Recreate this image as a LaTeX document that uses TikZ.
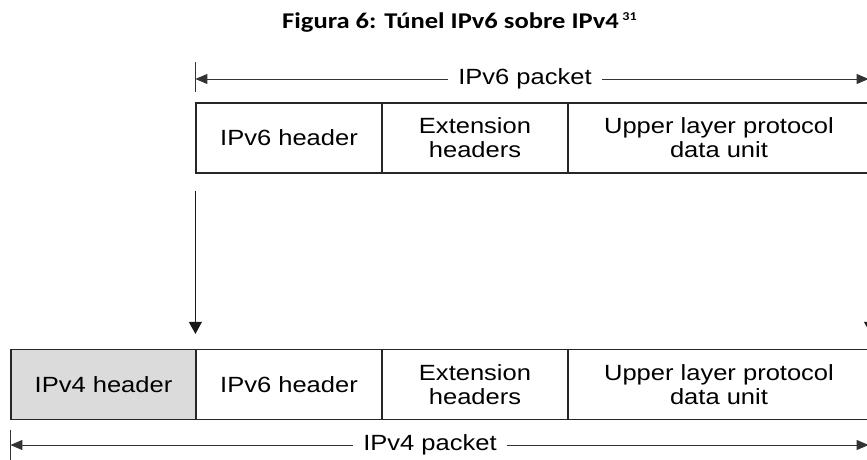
\documentclass[tikz,border=0pt]{standalone}
\usepackage{fontspec}
\setmainfont{Liberation Sans}
\newfontfamily\labfont[FakeStretch=1.16]{Liberation Sans}
\newfontfamily\captfont[FakeStretch=1.18]{Carlito}
\usetikzlibrary{arrows.meta}

\begin{document}
\begin{tikzpicture}[x=1pt,y=-1pt,
  cell/.style={draw=black!85, line width=1.2pt, minimum height=70pt,
    inner sep=0pt, align=center,
    font=\labfont\fontsize{22}{24}\selectfont},
  hdr/.style={cell, fill=black!14},
  dimline/.style={draw=black!80, line width=0.9pt,
    -{Triangle[length=12pt,width=10pt]}},
  dropline/.style={draw=black!90, line width=0.9pt,
    -{Triangle[length=12pt,width=13pt]}},
  tick/.style={draw=black!80, line width=0.9pt},
  dimlabel/.style={fill=white, inner xsep=10pt, inner ysep=2pt,
    font=\labfont\fontsize{22}{24}\selectfont}]

\useasboundingbox (0,0) rectangle (867,460);
\clip (0,0) rectangle (867,460);

% caption
\node[anchor=base west, inner sep=0pt,
  font=\captfont\bfseries\fontsize{22.5}{24}\selectfont] (cap) at (282,29)
  {Figura 6: Túnel IPv6 sobre IPv4\,\raisebox{8pt}{\fontsize{12}{12}\selectfont 31}};

% IPv6 packet
\node[cell, minimum width=186pt] (a6)  at (289,138) {IPv6 header};
\node[cell, minimum width=186pt] (ax)  at (475,138) {Extension\\headers};
\node[cell, minimum width=302pt] (au)  at (719,138) {Upper layer protocol\\data unit};

% IPv4 packet carrying the IPv6 packet
\node[hdr,  minimum width=185pt] (b4)  at (103.5,384.5) {IPv4 header};
\node[cell, minimum width=186pt] (b6)  at (289,384.5) {IPv6 header};
\node[cell, minimum width=186pt] (bx)  at (475,384.5) {Extension\\headers};
\node[cell, minimum width=302pt] (bu)  at (719,384.5) {Upper layer protocol\\data unit};

% IPv6 packet span
\node[dimlabel] (l6) at (525,79) {IPv6 packet};
\draw[tick] ([yshift=40pt]a6.north west) -- ([yshift=10pt]a6.north west);
\draw[tick] ([yshift=40pt]au.north east) -- ([yshift=10pt]au.north east);
\draw[dimline] (l6) -- (a6.north west |- l6);
\draw[dimline] (l6) -- ([xshift=-2pt]au.north east |- l6);

% encapsulation arrows
\draw[dropline] ([yshift=-17pt]a6.south west) -- ([yshift=15pt]b6.north west);
\draw[dropline] ([yshift=-17pt]au.south east) -- ([yshift=15pt]bu.north east);

% IPv4 packet span
\node[dimlabel] (l4) at (430,445) {IPv4 packet};
\draw[tick] ([yshift=-10pt]b4.south west) -- ([yshift=-45pt]b4.south west);
\draw[tick] ([yshift=-10pt]bu.south east) -- ([yshift=-45pt]bu.south east);
\draw[dimline] (l4) -- (b4.south west |- l4);
\draw[dimline] (l4) -- ([xshift=-2pt]bu.south east |- l4);
\end{tikzpicture}
\end{document}
